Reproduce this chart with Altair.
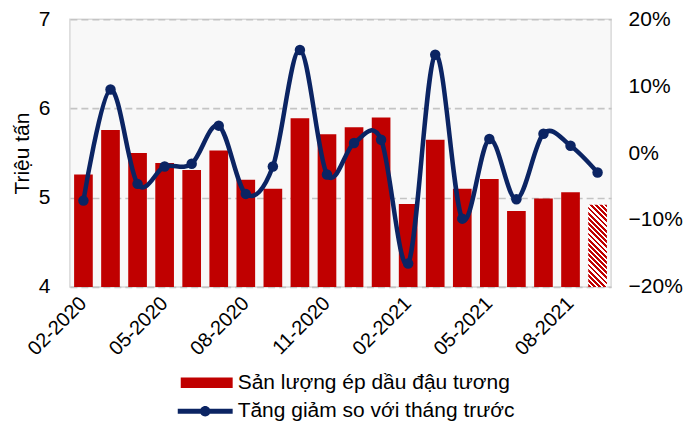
import altair as alt
import pandas as pd

months = ["02-2020", "03-2020", "04-2020", "05-2020", "06-2020", "07-2020", "08-2020",
          "09-2020", "10-2020", "11-2020", "12-2020", "01-2021", "02-2021", "03-2021",
          "04-2021", "05-2021", "06-2021", "07-2021", "08-2021", "09-2021"]
output = [5.26, 5.76, 5.50, 5.39, 5.31, 5.53, 5.20, 5.10, 5.89, 5.71,
          5.79, 5.90, 4.93, 5.65, 5.10, 5.21, 4.85, 4.99, 5.06, 4.92]
change_pct = [-7.1, 9.5, -4.6, -2.0, -1.6, 4.1, -6.1, -2.0, 15.4, -3.2,
              1.5, 2.0, -16.5, 14.7, -9.8, 2.1, -6.9, 2.9, 1.1, -2.9]
is_forecast = [False] * 19 + [True]
tick_labels = ["02-2020", "05-2020", "08-2020", "11-2020", "02-2021", "05-2021", "08-2021"]

bar_name = "Sản lượng ép dầu đậu tương"
line_name = "Tăng giảm so với tháng trước"

df = pd.DataFrame({
    "month": months,
    "output": output,
    "change": [v / 100 for v in change_pct],
    "forecast": is_forecast,
    "s_bar": bar_name,
    "s_line": line_name,
})

W, H = 542, 268
FONT = "Liberation Sans"
FS = 21
RED = "#c00000"
NAVY = "#0b2463"

x_enc = alt.X("month:N", sort=months, title=None,
              scale=alt.Scale(paddingInner=0.31, paddingOuter=0.155),
              axis=alt.Axis(values=tick_labels, labelAngle=-45, labelAlign="right",
                            labelBaseline="middle", labelPadding=13, ticks=False,
                            domain=False, labelFontSize=20, labelFont=FONT,
                            labelColor="black"))

y_left = alt.Y("output:Q", title="Triệu tấn",
               scale=alt.Scale(domain=[4, 7], zero=False, nice=False),
               axis=alt.Axis(values=[4, 5, 6, 7], grid=True, gridDash=[7, 4],
                             gridColor="#c4c4c4", gridWidth=1.6, ticks=False,
                             domain=False, labelPadding=20, labelFontSize=FS,
                             labelFont=FONT, labelColor="black", titleFont=FONT,
                             titleFontSize=FS, titleFontWeight="normal",
                             titleColor="black", titlePadding=6))

bars = alt.Chart(df).transform_filter("!datum.forecast").mark_bar().encode(
    x=x_enc,
    y=y_left,
    y2=alt.datum(4),
    color=alt.Color("s_bar:N", scale=alt.Scale(domain=[bar_name], range=[RED]),
                    legend=alt.Legend(title=None, orient="none", legendX=111, legendY=338,
                                      symbolType="M-1,-0.2H1V0.2H-1Z", symbolSize=2704,
                                      symbolStrokeWidth=0, labelFontSize=FS,
                                      labelFont=FONT, labelColor="black", labelOffset=5,
                                      labelLimit=400)),
)

# hatched forecast bar (diagonal stripes made with a hard-stop gradient)
fc_val = output[-1]
bar_h = (fc_val - 4) / 3 * H
bar_w = W / len(months) * 0.69
a = bar_w / bar_h
k = 1.2
periods = 20
stops = []
for i in range(periods):
    o0 = i / periods
    o1 = (i + 0.55) / periods
    o2 = (i + 1) / periods
    stops.append(alt.GradientStop(color=RED, offset=o0))
    stops.append(alt.GradientStop(color=RED, offset=o1))
    stops.append(alt.GradientStop(color="white", offset=o1))
    stops.append(alt.GradientStop(color="white", offset=o2))
hatch = alt.LinearGradient(gradient="linear", stops=stops,
                           x1=0, y1=1, x2=a * k, y2=1 - k)

fc_bar = alt.Chart(df).transform_filter("datum.forecast").mark_bar(
    color=hatch).encode(x=x_enc, y=y_left, y2=alt.datum(4))

y_right = alt.Y("change:Q", title=None,
                scale=alt.Scale(domain=[-0.2, 0.2], nice=False),
                axis=alt.Axis(orient="right", format=".0%", values=[-0.2, -0.1, 0, 0.1, 0.2],
                              grid=False, ticks=False, domain=False, labelPadding=17,
                              labelFontSize=FS, labelFont=FONT, labelColor="black"))

line = alt.Chart(df).mark_line(interpolate="cardinal", strokeWidth=4.5, color=NAVY).encode(
    x=x_enc, y=y_right)

pts = alt.Chart(df).mark_circle(size=110, opacity=1).encode(
    x=x_enc, y=y_right,
    color=alt.Color("s_line:N", scale=alt.Scale(domain=[line_name], range=[NAVY]),
                    legend=alt.Legend(title=None, orient="none", legendX=108, legendY=365,
                                      symbolType="M-1,-0.09H1V0.09H-1Z M0.19,0 A0.19,0.19 0 1,1 -0.19,0 A0.19,0.19 0 1,1 0.19,0Z",
                                      symbolSize=3025, symbolStrokeWidth=0,
                                      labelFontSize=FS, labelFont=FONT, labelColor="black",
                                      labelOffset=5, labelLimit=400)),
)

chart = alt.layer(
    alt.layer(bars, fc_bar),
    alt.layer(line, pts),
).resolve_scale(y="independent", color="independent").properties(
    width=W, height=H,
    autosize=alt.AutoSizeParams(type="none"),
    padding={"left": 62, "top": 11, "right": 76, "bottom": 136},
).configure_view(fill="#f8f8f8", stroke="#d9d9d9", strokeWidth=1.5)

chart.save("out.html", embed_options={"renderer": "svg", "actions": False})
